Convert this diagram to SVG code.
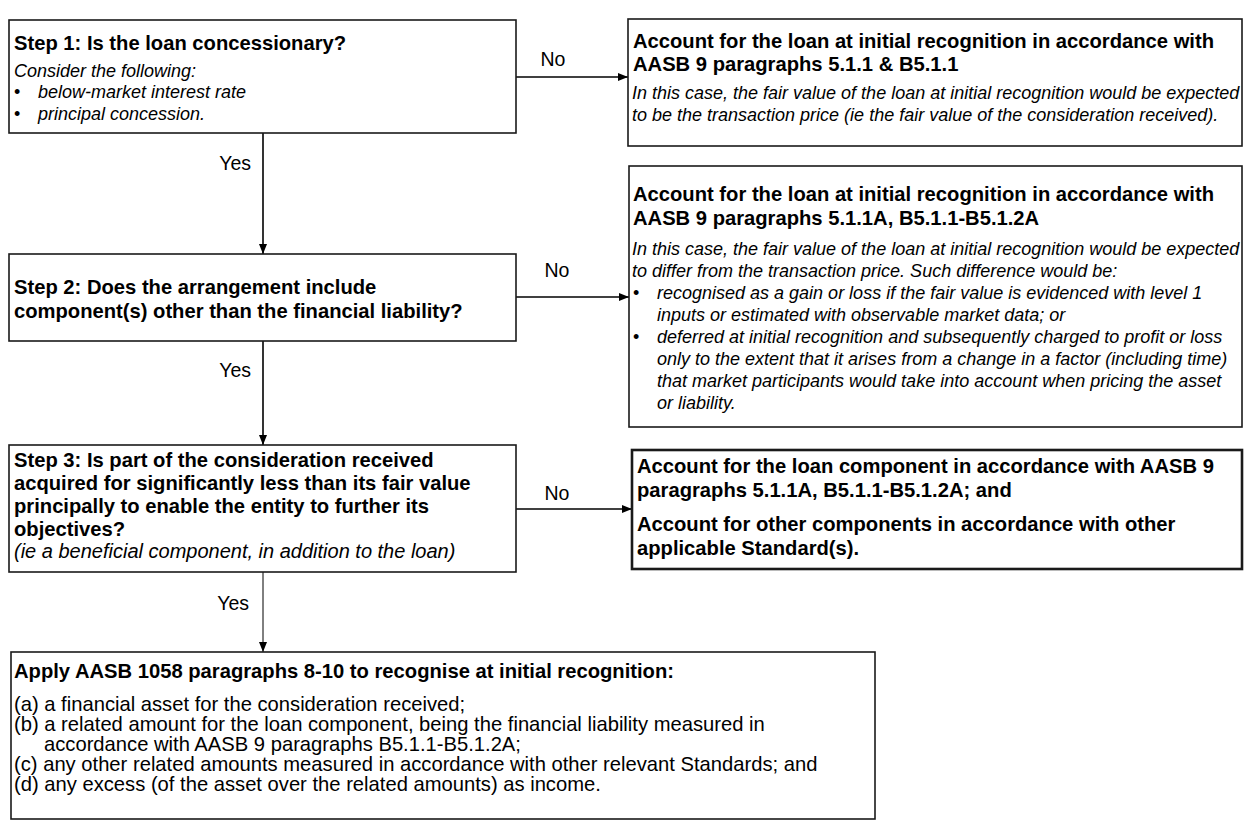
<svg xmlns="http://www.w3.org/2000/svg" width="1252" height="823" viewBox="0 0 1252 823">
<defs>
<marker id="arr" markerUnits="userSpaceOnUse" markerWidth="10" markerHeight="10" viewBox="0 0 10 10" refX="10" refY="5" orient="auto">
<path d="M0,1 L10,5 L0,9 Z" fill="#000"/>
</marker>
<style>
.box{fill:#fff;stroke:#1a1a1a;stroke-width:1.6}
.boxT{fill:#fff;stroke:#1a1a1a;stroke-width:2.6}
.b{font-family:"Liberation Sans",Arial,sans-serif;font-weight:bold;font-size:20.2px;fill:#000}
.i{font-family:"Liberation Sans",Arial,sans-serif;font-style:italic;font-size:18px;fill:#000}
.i2{font-family:"Liberation Sans",Arial,sans-serif;font-style:italic;font-size:20px;fill:#000}
.r{font-family:"Liberation Sans",Arial,sans-serif;font-size:20.2px;fill:#000}
.dot{font-family:"Liberation Sans",Arial,sans-serif;font-size:18px;fill:#000}
.lbl{font-family:"Liberation Sans",Arial,sans-serif;font-size:19.5px;fill:#000}
.c{fill:none;stroke:#000;stroke-width:1.6}
.c1{fill:none;stroke:#000;stroke-width:1}
</style>
</defs>
<rect width="1252" height="823" fill="#fff"/>
<g id="connectors">
<line class="c" x1="516" y1="77" x2="628" y2="77" marker-end="url(#arr)"/>
<line class="c" x1="516" y1="297" x2="629" y2="297" marker-end="url(#arr)"/>
<line class="c" x1="516" y1="509" x2="632" y2="509" marker-end="url(#arr)"/>
<line class="c" x1="263" y1="133" x2="263" y2="254" marker-end="url(#arr)"/>
<line class="c" x1="263" y1="341" x2="263" y2="445" marker-end="url(#arr)"/>
<line class="c1" x1="263" y1="572" x2="263" y2="652" marker-end="url(#arr)"/>
<text class="lbl" x="553" y="66" text-anchor="middle">No</text>
<text class="lbl" x="557" y="277" text-anchor="middle">No</text>
<text class="lbl" x="557" y="500" text-anchor="middle">No</text>
<text class="lbl" x="251" y="170" text-anchor="end">Yes</text>
<text class="lbl" x="251" y="377" text-anchor="end">Yes</text>
<text class="lbl" x="249" y="610" text-anchor="end">Yes</text>
</g>
<g id="step1">
<rect class="box" x="9" y="20" width="507" height="113"/>
<text class="b" x="14" y="50">Step 1: Is the loan concessionary?</text>
<text class="i" x="14" y="77">Consider the following:</text>
<text class="dot" x="14" y="98">•</text>
<text class="i" x="38" y="98">below-market interest rate</text>
<text class="dot" x="14" y="120">•</text>
<text class="i" x="38" y="120">principal concession.</text>
</g>
<g id="resultA">
<rect class="box" x="628" y="19" width="614" height="127"/>
<text class="b" x="633" y="48">Account for the loan at initial recognition in accordance with</text>
<text class="b" x="633" y="71">AASB 9 paragraphs 5.1.1 &amp; B5.1.1</text>
<text class="i" x="632" y="99">In this case, the fair value of the loan at initial recognition would be expected</text>
<text class="i" x="632" y="121">to be the transaction price (ie the fair value of the consideration received).</text>
</g>
<g id="step2">
<rect class="box" x="9" y="254" width="507" height="87"/>
<text class="b" x="14" y="294">Step 2: Does the arrangement include</text>
<text class="b" x="14" y="318">component(s) other than the financial liability?</text>
</g>
<g id="resultB">
<rect class="box" x="629" y="166" width="613" height="261"/>
<text class="b" x="633" y="201">Account for the loan at initial recognition in accordance with</text>
<text class="b" x="633" y="225">AASB 9 paragraphs 5.1.1A, B5.1.1-B5.1.2A</text>
<text class="i" x="632" y="255">In this case, the fair value of the loan at initial recognition would be expected</text>
<text class="i" x="632" y="277">to differ from the transaction price. Such difference would be:</text>
<text class="dot" x="633" y="299">•</text>
<text class="i" x="657" y="299">recognised as a gain or loss if the fair value is evidenced with level 1</text>
<text class="i" x="657" y="321">inputs or estimated with observable market data; or</text>
<text class="dot" x="633" y="343">•</text>
<text class="i" x="657" y="343">deferred at initial recognition and subsequently charged to profit or loss</text>
<text class="i" x="657" y="365">only to the extent that it arises from a change in a factor (including time)</text>
<text class="i" x="657" y="387">that market participants would take into account when pricing the asset</text>
<text class="i" x="657" y="409">or liability.</text>
</g>
<g id="step3">
<rect class="box" x="9" y="445" width="507" height="127"/>
<text class="b" x="14" y="467">Step 3: Is part of the consideration received</text>
<text class="b" x="14" y="490">acquired for significantly less than its fair value</text>
<text class="b" x="14" y="513">principally to enable the entity to further its</text>
<text class="b" x="14" y="536">objectives?</text>
<text class="i2" x="14" y="558">(ie a beneficial component, in addition to the loan)</text>
</g>
<g id="resultC">
<rect class="boxT" x="632" y="450" width="610" height="119"/>
<text class="b" x="637" y="473">Account for the loan component in accordance with AASB 9</text>
<text class="b" x="637" y="497">paragraphs 5.1.1A, B5.1.1-B5.1.2A; and</text>
<text class="b" x="637" y="531">Account for other components in accordance with other</text>
<text class="b" x="637" y="555">applicable Standard(s).</text>
</g>
<g id="apply">
<rect class="box" x="11" y="652" width="864" height="167"/>
<text class="b" x="14" y="678">Apply AASB 1058 paragraphs 8-10 to recognise at initial recognition:</text>
<text class="r" x="14" y="711">(a) a financial asset for the consideration received;</text>
<text class="r" x="14" y="731">(b) a related amount for the loan component, being the financial liability measured in</text>
<text class="r" x="44" y="751">accordance with AASB 9 paragraphs B5.1.1-B5.1.2A;</text>
<text class="r" x="14" y="771">(c) any other related amounts measured in accordance with other relevant Standards; and</text>
<text class="r" x="14" y="791">(d) any excess (of the asset over the related amounts) as income.</text>
</g>
</svg>
